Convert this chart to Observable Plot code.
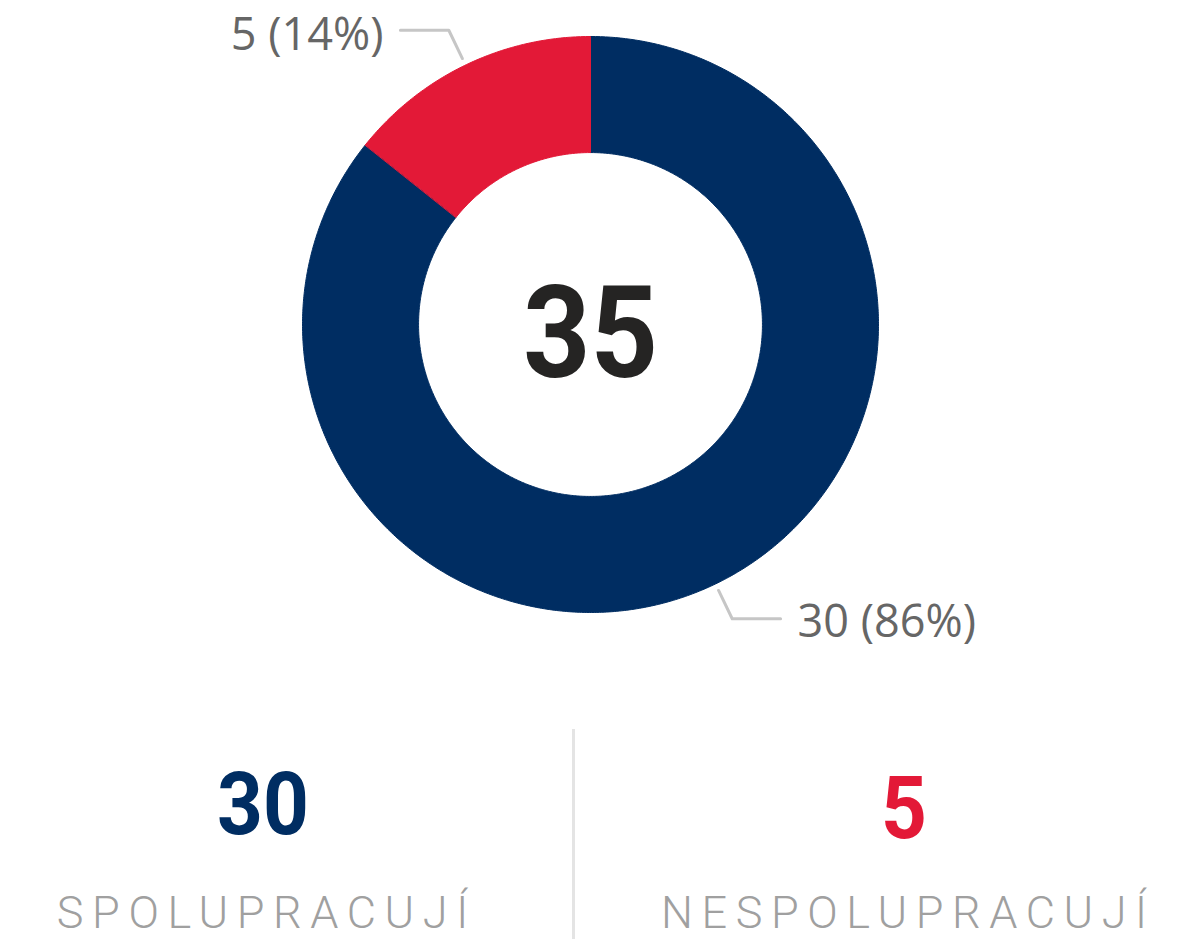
<!DOCTYPE html>
<html>
<head>
<meta charset="utf-8">
<script src="https://cdn.jsdelivr.net/npm/d3@7"></script>
<script src="https://cdn.jsdelivr.net/npm/@observablehq/plot@0.6"></script>
<style>
  html, body { margin: 0; padding: 0; background: #fff; }
  body { width: 1190px; height: 939px; overflow: hidden; font-family: Roboto, "Open Sans", sans-serif; }
  #chart svg { display: block; }
  #kpis { position: relative; width: 1190px; height: 259px; }
  .divider { position: absolute; left: 572px; top: 49px; width: 3px; height: 210px; background: #e4e4e4; }
  .num { position: absolute; font-family: Roboto, sans-serif; font-weight: 700; font-size: 87px; line-height: 1; white-space: nowrap; transform: translateX(-50%) scaleX(0.92); }
  .lab { position: absolute; font-family: Roboto, sans-serif; font-weight: 300; font-size: 45px; line-height: 1; color: #a0a0a0; letter-spacing: 8.6px; padding-left: 8.6px; white-space: nowrap; transform: translateX(-50%); }
</style>
</head>
<body>
<div id="chart"></div>
<div id="kpis"></div>
<script>
// ---- data ----
const categories = ["Spolupracují", "Nespolupracují"];
const values = [30, 5];
const colors = ["#002D62", "#E31937"];
const kpiLabels = ["SPOLUPRACUJÍ", "NESPOLUPRACUJÍ"];

// ---- layout constants ----
const W = 1190, H = 680;
const cx = 590, cy = 324;
const R = 288, r0 = 0.597 * R;

const total = d3.sum(values);
const pie = d3.pie().sort(null)(values);

// ring polygons built from pie angles
const ring = [];
pie.forEach((p, i) => {
  const key = categories[i];
  const n = Math.max(8, Math.ceil((p.endAngle - p.startAngle) / (Math.PI / 360)));
  for (let k = 0; k <= n; k++) {
    const a = p.startAngle + (p.endAngle - p.startAngle) * k / n;
    ring.push({key, x: R * Math.sin(a), y: R * Math.cos(a)});
  }
  for (let k = n; k >= 0; k--) {
    const a = p.startAngle + (p.endAngle - p.startAngle) * k / n;
    ring.push({key, x: r0 * Math.sin(a), y: r0 * Math.cos(a)});
  }
});

// leader lines & labels
const leaders = [], labels = [];
pie.forEach((p, i) => {
  const key = categories[i];
  const m = (p.startAngle + p.endAngle) / 2;
  const side = Math.sin(m) < 0 ? -1 : 1;
  const a = {x: 1.025 * R * Math.sin(m), y: 1.025 * R * Math.cos(m)};
  const b = {x: 1.134 * R * Math.sin(m), y: 1.134 * R * Math.cos(m)};
  const c = {x: b.x + side * 0.168 * R, y: b.y};
  leaders.push({key, ...a}, {key, ...b}, {key, ...c});
  labels.push({key, side, x: c.x, y: c.y, text: `${values[i]} (${Math.round(values[i] / total * 100)}%)`});
});

const labelFont = "'Segoe UI', 'Open Sans', sans-serif";

const plot = Plot.plot({
  width: W,
  height: H,
  margin: 0,
  x: {domain: [-cx, W - cx], range: [0, W], axis: null},
  y: {domain: [-(H - cy), cy], range: [H, 0], axis: null},
  color: {domain: categories, range: colors},
  marks: [
    Plot.line(ring, {x: "x", y: "y", z: "key", fill: "key", stroke: "key", strokeWidth: 1, curve: "linear-closed"}),
    Plot.line(leaders, {x: "x", y: "y", z: "key", stroke: "#c6c6c6", strokeWidth: 3}),
    Plot.text(labels.filter(d => d.side < 0), {x: "x", y: "y", text: "text", textAnchor: "end", dx: -17, dy: 5, fontSize: 45, fill: "#666", fontFamily: labelFont}),
    Plot.text(labels.filter(d => d.side > 0), {x: "x", y: "y", text: "text", textAnchor: "start", dx: 17, dy: 4, fontSize: 45, fill: "#666", fontFamily: labelFont}),
    Plot.text([{x: 0, y: 0, text: String(total)}], {x: "x", y: "y", text: "text", fontSize: 128, fontWeight: "bold", fill: "#252423", dy: 12, fontFamily: "Roboto, sans-serif"})
  ]
});
document.getElementById("chart").appendChild(plot);

// slight horizontal condensing of the centre total
plot.querySelectorAll("text").forEach(t => {
  if (t.textContent === String(total)) {
    const x = +t.getAttribute("x") || 0, y = +t.getAttribute("y") || 0;
    const tr = t.getAttribute("transform") || "";
    t.setAttribute("transform", `${tr} translate(${x},${y}) scale(0.92,1) translate(${-x},${-y})`);
  }
});

// KPI section
const kpis = document.getElementById("kpis");
const div = document.createElement("div");
div.className = "divider";
kpis.appendChild(div);
const centers = [262.5, 904];
const numTops = [80.6, 84.6];
values.forEach((v, i) => {
  const n = document.createElement("div");
  n.className = "num";
  n.textContent = v;
  n.style.left = centers[i] + "px";
  n.style.top = numTops[i] + "px";
  n.style.color = colors[i];
  kpis.appendChild(n);
  const l = document.createElement("div");
  l.className = "lab";
  l.textContent = kpiLabels[i];
  l.style.left = centers[i] + "px";
  l.style.top = "210px";
  kpis.appendChild(l);
});
</script>
</body>
</html>
